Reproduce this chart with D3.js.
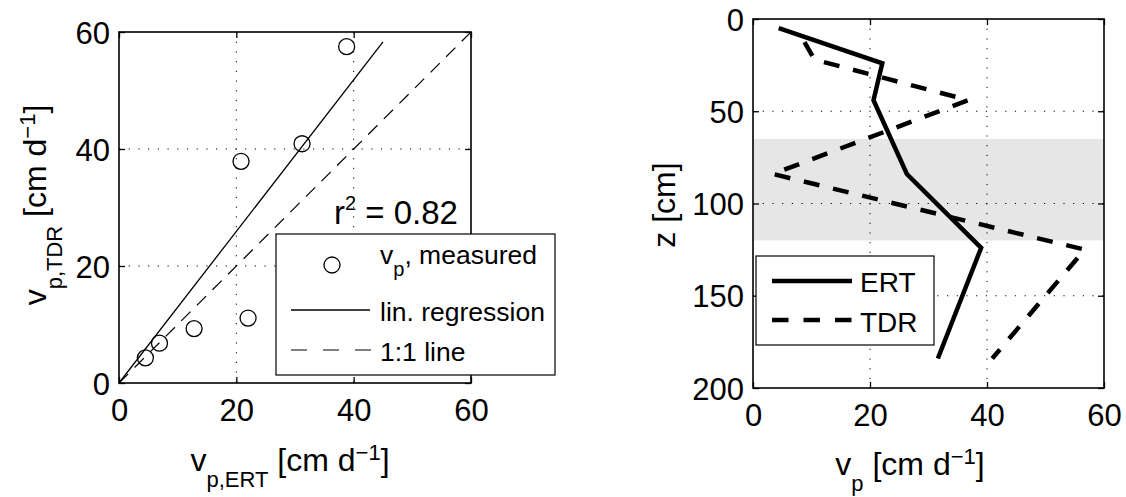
<!DOCTYPE html>
<html>
<head>
<meta charset="utf-8">
<script src="https://cdn.jsdelivr.net/npm/d3@7"></script>
<style>
  html, body { margin: 0; padding: 0; background: #fff; }
  svg { display: block; }
  text { font-family: "Liberation Sans", Arial, Helvetica, sans-serif; fill: #000; }
</style>
</head>
<body>
<svg id="chart" width="1126" height="497"></svg>
<script>
// ---------- Data ----------
// Left panel: scatter of measured pore velocities
const scatterERT = [38.8, 31.2, 20.8, 22.0, 12.8, 6.9, 4.5];
const scatterTDR = [57.5, 40.9, 37.9, 11.1, 9.3, 6.8, 4.3];
// linear regression line endpoints
const regX = [0, 45];
const regY = [0, 58.3];
// 1:1 line endpoints
const oneX = [0, 60];
const oneY = [0, 60];
const r2Value = "0.82";
const leftTicks = [0, 20, 40, 60];

// Right panel: depth profiles
const ertV = [4.4, 22.1, 20.6, 26.3, 39.0, 31.6];
const ertZ = [5, 24, 44, 84, 124, 184];
const tdrV = [8.8, 10.5, 36.8, 3.4, 56.7, 40.9];
const tdrZ = [12.5, 22, 44, 84, 125, 184];
const bandZ = [65, 120];
const rightXTicks = [0, 20, 40, 60];
const rightYTicks = [0, 50, 100, 150, 200];

// ---------- Setup ----------
const svg = d3.select("#chart");
const FS = 31;   // tick labels
const LS = 32;   // axis labels

function rich(g, x, y, parts, size, small, subShift, supShift, anchor, rotate) {
  const t = g.append("text")
    .attr("x", x).attr("y", y)
    .attr("font-size", size)
    .attr("text-anchor", anchor || "start");
  if (rotate) t.attr("transform", `rotate(${rotate},${x},${y})`);
  let cur = 0;
  parts.forEach(p => {
    const off = p.sub ? subShift : (p.sup ? -supShift : 0);
    t.append("tspan")
      .attr("dy", off - cur)
      .attr("font-size", (p.sub || p.sup) ? small : size)
      .text(p.t);
    cur = off;
  });
  return t;
}

function panel(box, xDomain, yDomain) {
  const g = svg.append("g");
  const x = d3.scaleLinear().domain(xDomain).range([box.x0, box.x1]);
  const y = d3.scaleLinear().domain(yDomain).range([box.y1, box.y0]);
  return { g, x, y };
}

function decorate(p, box, xTicks, yTicks) {
  const { g, x, y } = p;
  const grid = g.append("g").attr("stroke", "#000").attr("stroke-width", 1)
    .attr("stroke-dasharray", "1.2,8.5");
  xTicks.filter(v => x(v) > box.x0 + 1 && x(v) < box.x1 - 1).forEach(v => {
    grid.append("line").attr("x1", x(v)).attr("x2", x(v)).attr("y1", box.y0).attr("y2", box.y1);
  });
  yTicks.filter(v => y(v) > box.y0 + 1 && y(v) < box.y1 - 1).forEach(v => {
    grid.append("line").attr("y1", y(v)).attr("y2", y(v)).attr("x1", box.x0).attr("x2", box.x1);
  });
}

function axesFrame(p, box, xTicks, yTicks) {
  const { g, x, y } = p;
  const bottom = g.append("g").attr("transform", `translate(0,${box.y1})`)
    .call(d3.axisBottom(x).tickValues(xTicks).tickSize(-6).tickPadding(16).tickFormat(d3.format("d")));
  const left = g.append("g").attr("transform", `translate(${box.x0},0)`)
    .call(d3.axisLeft(y).tickValues(yTicks).tickSize(-6).tickPadding(9).tickFormat(d3.format("d")));
  const top = g.append("g").attr("transform", `translate(0,${box.y0})`)
    .call(d3.axisTop(x).tickValues(xTicks).tickSize(-6).tickFormat(""));
  const right = g.append("g").attr("transform", `translate(${box.x1},0)`)
    .call(d3.axisRight(y).tickValues(yTicks).tickSize(-6).tickFormat(""));
  [bottom, left, top, right].forEach(a => {
    a.select(".domain").remove();
    a.selectAll(".tick line").attr("stroke", "#000").attr("stroke-width", 1.3);
    a.selectAll("text").attr("font-size", FS).attr("font-family", "Liberation Sans, Arial, sans-serif").attr("fill", "#000");
  });
  left.selectAll("text").attr("dy", "0.36em");
  g.append("rect").attr("x", box.x0).attr("y", box.y0)
    .attr("width", box.x1 - box.x0).attr("height", box.y1 - box.y0)
    .attr("fill", "none").attr("stroke", "#000").attr("stroke-width", 1.6);
}

// ---------- Left panel ----------
const LB = { x0: 119, x1: 471, y0: 32, y1: 383 };
const P1 = panel(LB, [0, 60], [0, 60]);
decorate(P1, LB, leftTicks, leftTicks);

const line1 = d3.line().x(d => P1.x(d[0])).y(d => P1.y(d[1]));
P1.g.append("path").attr("d", line1(d3.zip(oneX, oneY)))
  .attr("fill", "none").attr("stroke", "#000").attr("stroke-width", 1.2).attr("stroke-dasharray", "13,9");
P1.g.append("path").attr("d", line1(d3.zip(regX, regY)))
  .attr("fill", "none").attr("stroke", "#000").attr("stroke-width", 1.3);
P1.g.append("g").selectAll("circle").data(d3.zip(scatterERT, scatterTDR)).join("circle")
  .attr("cx", d => P1.x(d[0])).attr("cy", d => P1.y(d[1])).attr("r", 8)
  .attr("fill", "none").attr("stroke", "#000").attr("stroke-width", 1.3);

// r^2 text
rich(P1.g, 334, 224, [{ t: "r" }, { t: "2", sup: true }, { t: " = " + r2Value }], 33, 20, 0, 14);

axesFrame(P1, LB, leftTicks, leftTicks);

// legend (drawn over the frame, extends past the axes)
const lg = P1.g.append("g");
lg.append("rect").attr("x", 276).attr("y", 234).attr("width", 279).attr("height", 141)
  .attr("fill", "#fff").attr("stroke", "#000").attr("stroke-width", 1.2);
lg.append("circle").attr("cx", 332).attr("cy", 265).attr("r", 8)
  .attr("fill", "none").attr("stroke", "#000").attr("stroke-width", 1.3);
lg.append("line").attr("x1", 291).attr("x2", 370).attr("y1", 310).attr("y2", 310)
  .attr("stroke", "#000").attr("stroke-width", 1.3);
lg.append("line").attr("x1", 291).attr("x2", 371).attr("y1", 350).attr("y2", 350)
  .attr("stroke", "#000").attr("stroke-width", 1.2).attr("stroke-dasharray", "16,16");
rich(lg, 380, 264, [{ t: "v" }, { t: "p", sub: true }, { t: ", measured" }], 26.5, 20, 12, 0);
rich(lg, 380, 321, [{ t: "lin. regression" }], 26.5, 20, 0, 0);
rich(lg, 380, 361, [{ t: "1:1 line" }], 26.5, 20, 0, 0);

// axis labels
rich(svg, 290, 471, [{ t: "v" }, { t: "p,ERT", sub: true }, { t: " [cm d" }, { t: "\u22121", sup: true }, { t: "]" }],
  LS, 22, 16, 11, "middle");
rich(svg, 46, 205, [{ t: "v" }, { t: "p,TDR", sub: true }, { t: " [cm d" }, { t: "\u22121", sup: true }, { t: "]" }],
  LS, 22, 16, 11, "middle", -90);

// ---------- Right panel ----------
const RB = { x0: 753, x1: 1104, y0: 19, y1: 388 };
const P2 = panel(RB, [0, 60], [200, 0]);
P2.g.append("rect")
  .attr("x", RB.x0).attr("width", RB.x1 - RB.x0)
  .attr("y", P2.y(bandZ[0])).attr("height", P2.y(bandZ[1]) - P2.y(bandZ[0]))
  .attr("fill", "#e6e6e6");
decorate(P2, RB, rightXTicks, rightYTicks);

const line2 = d3.line().x(d => P2.x(d[0])).y(d => P2.y(d[1]));
P2.g.append("path").attr("d", line2(d3.zip(tdrV, tdrZ)))
  .attr("fill", "none").attr("stroke", "#000").attr("stroke-width", 4.5)
  .attr("stroke-dasharray", "16,14").attr("stroke-linejoin", "miter");
P2.g.append("path").attr("d", line2(d3.zip(ertV, ertZ)))
  .attr("fill", "none").attr("stroke", "#000").attr("stroke-width", 4.5).attr("stroke-linejoin", "miter");

axesFrame(P2, RB, rightXTicks, rightYTicks);

const lg2 = P2.g.append("g");
lg2.append("rect").attr("x", 756).attr("y", 256).attr("width", 178).attr("height", 89)
  .attr("fill", "#fff").attr("stroke", "#000").attr("stroke-width", 1.2);
lg2.append("line").attr("x1", 772).attr("x2", 852).attr("y1", 281).attr("y2", 281)
  .attr("stroke", "#000").attr("stroke-width", 4.5);
lg2.append("line").attr("x1", 772).attr("x2", 852).attr("y1", 320).attr("y2", 320)
  .attr("stroke", "#000").attr("stroke-width", 4.5).attr("stroke-dasharray", "16.5,15");
rich(lg2, 860, 292, [{ t: "ERT" }], 28, 20, 0, 0);
rich(lg2, 860, 332, [{ t: "TDR" }], 28, 20, 0, 0);

rich(svg, 910, 475, [{ t: "v" }, { t: "p", sub: true }, { t: " [cm d" }, { t: "\u22121", sup: true }, { t: "]" }],
  LS, 22, 16, 11, "middle");
rich(svg, 675, 205, [{ t: "z [cm]" }], LS, 22, 0, 0, "middle", -90);
</script>
</body>
</html>
